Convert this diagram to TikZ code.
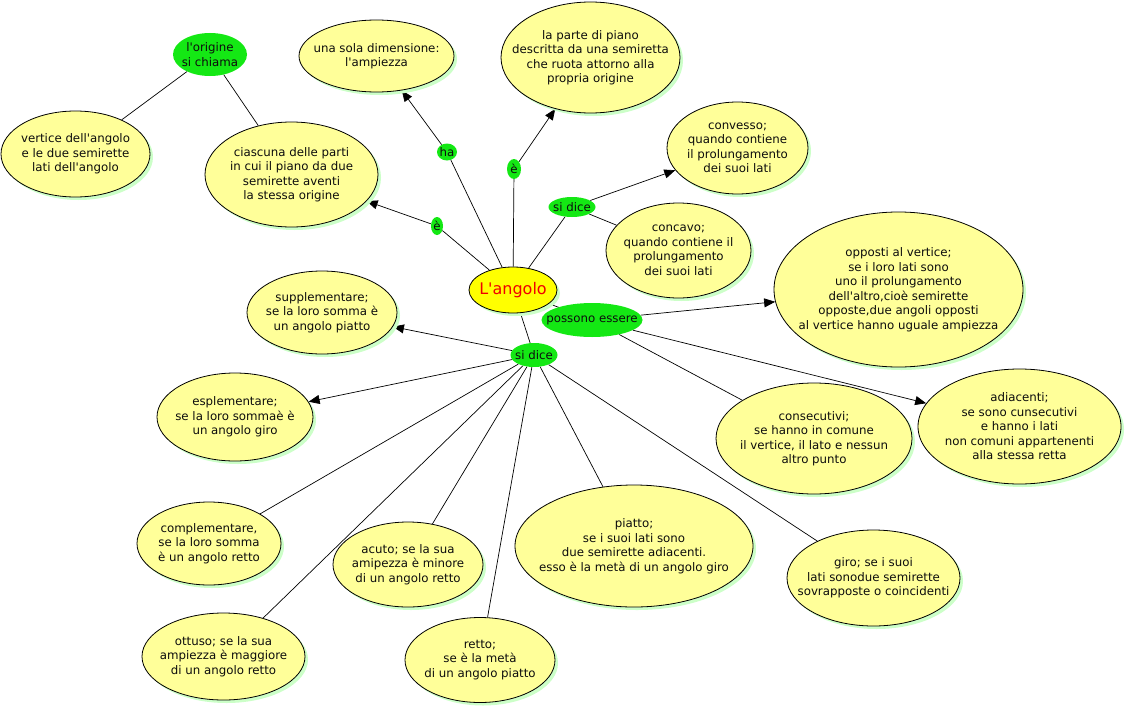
\documentclass[tikz,border=0pt]{standalone}
\usepackage{fontspec}
\newfontfamily\vfont{DejaVu Sans}
\usetikzlibrary{shapes.geometric,arrows.meta,shadows,backgrounds}
\definecolor{ylw}{RGB}{255,255,153}
\definecolor{grn}{RGB}{20,232,20}
\definecolor{shd}{RGB}{204,255,200}
\definecolor{ang}{RGB}{255,255,0}
\definecolor{redt}{RGB}{240,0,0}
\tikzset{
  ell/.style={ellipse, draw=black, line width=0.8pt, fill=ylw, inner sep=0pt,
    drop shadow={shadow xshift=3pt, shadow yshift=-3pt, fill=shd, opacity=1}},
  angs/.style={ellipse, draw=black, line width=0.8pt, fill=ang, inner sep=0pt,
    drop shadow={shadow xshift=3pt, shadow yshift=-3pt, fill=shd, opacity=1}},
  grnnode/.style={ellipse, fill=grn, inner sep=0pt},
  txt/.style={align=center, font=\vfont\fontsize{11.8}{14.5}\selectfont, inner sep=0pt, text=black!95},
  arr/.style={-{Triangle[length=11pt,width=9pt]}, line width=0.7pt},
  con/.style={line width=0.7pt}
}
\newcommand\bub[6]{%
  \node[ell, minimum width=#4pt, minimum height=#5pt] (#1) at (#2,#3) {};
  \node[txt] (#1-t) at (#1.center) {#6};}
\newcommand\gbub[6]{%
  \node[grnnode, minimum width=#4pt, minimum height=#5pt] (#1) at (#2,#3) {};
  \node[txt] (#1-t) at (#1.center) {#6};}
\begin{document}
\begin{tikzpicture}[x=1pt,y=-1pt]
\useasboundingbox (0,0) rectangle (1126,709);
% nodes
\gbub{origine}{210}{54.5}{74}{43}{l'origine\\si chiama}
\bub{vertice}{75.5}{154}{149}{86}{vertice dell'angolo\\e le due semirette\\lati dell'angolo}
\bub{ciascuna}{291.5}{174.5}{173}{105}{ciascuna delle parti\\in cui il piano da due\\semirette aventi\\la stessa origine}
\bub{unasola}{376.5}{56}{155}{72}{una sola dimensione:\\l'ampiezza}
\bub{laparte}{590.5}{57.5}{179}{111}{la parte di piano\\descritta da una semiretta\\che ruota attorno alla\\propria origine}
\gbub{ha}{447}{152}{20}{17}{ha}
\gbub{eup}{514}{169}{14}{20}{è}
\gbub{eleft}{437}{226}{12}{18}{è}
\gbub{sidiceA}{572}{207}{47}{20}{si dice}
\bub{convesso}{737.5}{148}{141}{92}{convesso;\\quando contiene\\il prolungamento\\dei suoi lati}
\bub{concavo}{678.5}{250.5}{145}{95}{concavo;\\quando contiene il\\prolungamento\\dei suoi lati}
\node[angs, minimum width=88pt, minimum height=46pt] (angolo) at (513,290) {};
\node[txt, font=\vfont\fontsize{16}{18}\selectfont, text=redt] (angolo-t) at (angolo.center) {L'angolo};
\gbub{possono}{592}{320}{101}{34}{possono essere}
\bub{opposti}{898.5}{289.5}{249}{155}{opposti al vertice;\\se i loro lati sono\\uno il prolungamento\\dell'altro,cioè semirette\\opposte,due angoli opposti\\al vertice hanno uguale ampiezza}
\gbub{sidiceB}{534}{355}{47}{24}{si dice}
\bub{suppl}{322}{312.5}{150}{83}{supplementare;\\se la loro somma è\\un angolo piatto}
\bub{espl}{235}{417}{156}{88}{esplementare;\\se la loro sommaè è\\un angolo giro}
\bub{compl}{209}{543.5}{144}{83}{complementare,\\se la loro somma\\è un angolo retto}
\bub{acuto}{408}{564.5}{150}{85}{acuto; se la sua\\amipezza è minore\\di un angolo retto}
\bub{ottuso}{223.5}{656.5}{163}{87}{ottuso; se la sua\\ampiezza è maggiore\\di un angolo retto}
\bub{retto}{480}{660}{150}{85}{retto;\\se è la metà\\di un angolo piatto}
\bub{piatto}{634}{546}{238}{122}{piatto;\\se i suoi lati sono\\due semirette adiacenti.\\esso è la metà di un angolo giro}
\bub{giro}{873.5}{578}{173}{96}{giro; se i suoi\\lati sonodue semirette\\sovrapposte o coincidenti}
\bub{consec}{814}{438.5}{196}{111}{consecutivi;\\se hanno in comune\\il vertice, il lato e nessun\\altro punto}
\bub{adiac}{1019.5}{426.5}{203}{115}{adiacenti;\\se sono cunsecutivi\\e hanno i lati\\non comuni appartenenti\\alla stessa retta}
% connectors
\begin{pgfonlayer}{background}
\fill[white] (0,0) rectangle (1126,709);
\draw[con] (origine) -- (vertice);
\draw[con] (origine) -- (ciascuna);
\draw[con] (angolo) -- (eleft);
\draw[arr] (eleft) -- (ciascuna);
\draw[con] (angolo) -- (ha);
\draw[arr] (ha) -- (unasola);
\draw[con] (angolo) -- (eup);
\draw[arr] (eup) -- (laparte);
\draw[con] (angolo) -- (sidiceA);
\draw[arr] (sidiceA) -- (convesso);
\draw[con] (sidiceA) -- (concavo);
\draw[con] (angolo.center) -- (possono.center);
\draw[arr] (possono) -- (opposti);
\draw[arr] (possono) -- (adiac);
\draw[con] (possono) -- (consec);
\draw[con] (angolo) -- (sidiceB);
\draw[arr] (sidiceB) -- (suppl);
\draw[arr] (sidiceB) -- (espl);
\draw[con] (sidiceB) -- (compl);
\draw[con] (sidiceB) -- (ottuso);
\draw[con] (sidiceB) -- (acuto);
\draw[con] (sidiceB) -- (retto);
\draw[con] (sidiceB) -- (piatto);
\draw[con] (sidiceB) -- (giro);
\end{pgfonlayer}
\end{tikzpicture}
\end{document}
